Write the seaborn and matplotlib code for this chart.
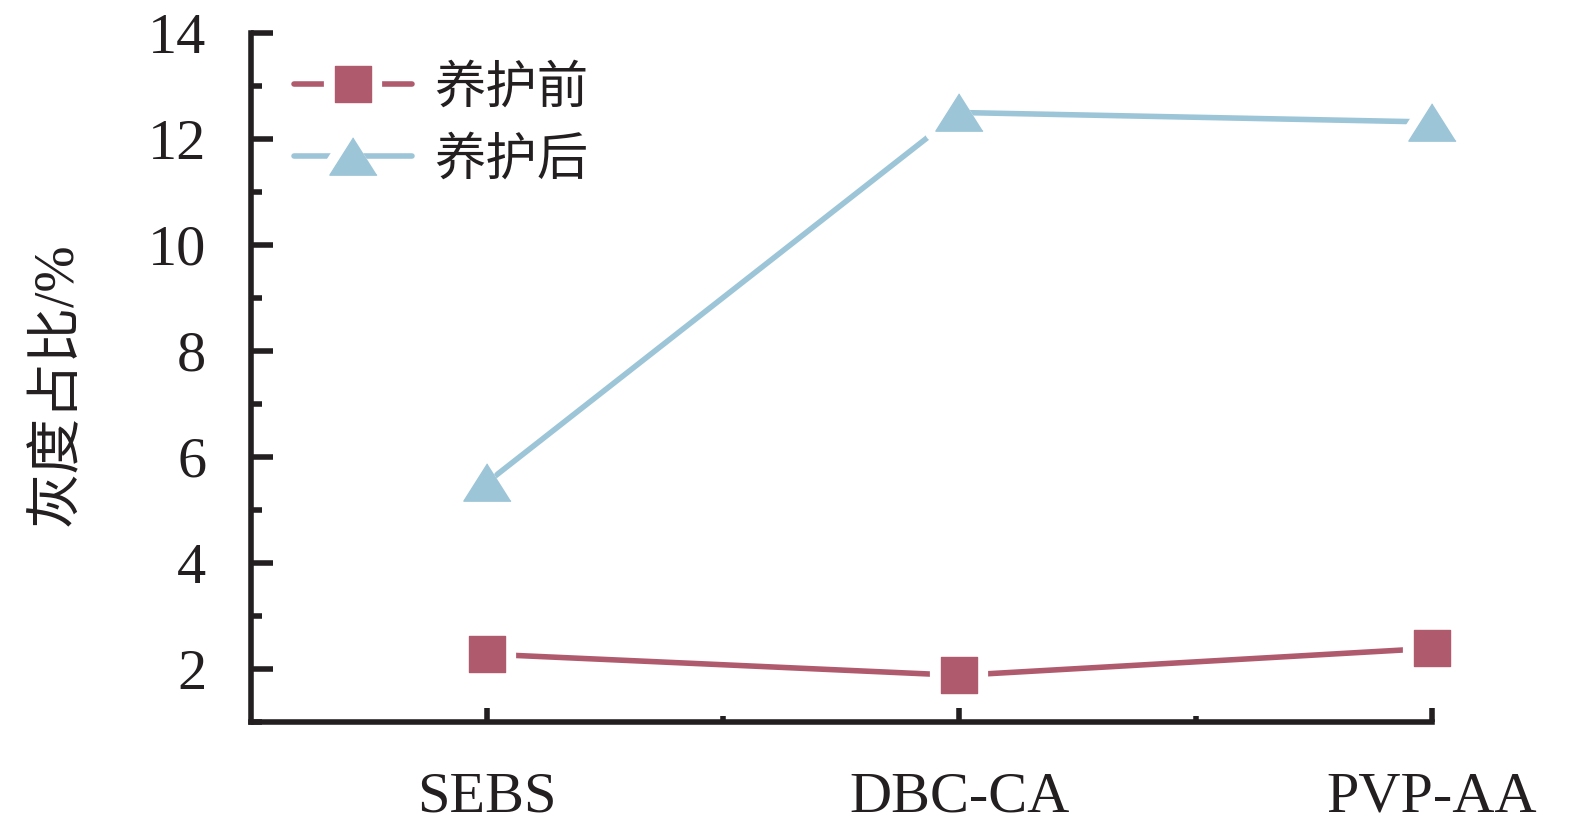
import numpy as np
import pandas as pd
import matplotlib
matplotlib.use('Agg')
import matplotlib.pyplot as plt
import seaborn as sns
from matplotlib.lines import Line2D
from matplotlib.markers import MarkerStyle
from matplotlib.legend_handler import HandlerTuple
from matplotlib.ticker import MultipleLocator, FixedLocator

materials = ['SEBS', 'DBC-CA', 'PVP-AA']
before = [2.28, 1.88, 2.39]   # 养护前
after = [5.52, 12.50, 12.32]  # 养护后
series_names = ['养护前', '养护后']
ylabel = '灰度占比/%'

red = '#B05A6E'
blue = '#9DC5D8'

sns.set_style('ticks')
plt.rcParams['font.family'] = ['Liberation Serif', 'Noto Sans CJK SC']

fig = plt.figure(figsize=(15.75, 8.33), dpi=100)
ax = fig.add_axes([250.7 / 1575, 1 - 722 / 833, (1432 - 250.7) / 1575, (722 - 33) / 833])

square = MarkerStyle('s', joinstyle='round')
tri = MarkerStyle([(0, 0.79), (-1, -0.79), (1, -0.79)], joinstyle='round')

styles = [
    (before, red, square, 26),
    (after, blue, tri, 34),
]
gap = 8  # white gap around markers, points

handles = []
for (vals, color, mk, ms) in styles:
    df = pd.DataFrame({'material': materials, 'value': vals})
    sns.lineplot(data=df, x='material', y='value', color=color, lw=4, errorbar=None,
                 ax=ax, zorder=2, sort=False)
    # white halo, then the coloured marker on top
    ax.plot(df['material'], df['value'], linestyle='none', marker=mk, markersize=ms,
            mfc='white', mec='white', mew=2 * gap, zorder=3, clip_on=False)
    ax.plot(df['material'], df['value'], linestyle='none', marker=mk, markersize=ms,
            mfc=color, mec=color, mew=1, zorder=4, clip_on=False)
    h_line = Line2D([], [], color=color, lw=4)
    h_halo = Line2D([], [], linestyle='none', marker=mk, markersize=ms,
                    mfc='white', mec='white', mew=2 * gap)
    h_mark = Line2D([], [], linestyle='none', marker=mk, markersize=ms,
                    mfc=color, mec=color, mew=1)
    handles.append((h_line, h_halo, h_mark))

ax.set_xlim(-0.5, 2)
ax.set_ylim(1, 14)
ax.yaxis.set_major_locator(MultipleLocator(2))
ax.yaxis.set_minor_locator(MultipleLocator(1))
ax.xaxis.set_minor_locator(FixedLocator([0.5, 1.5]))

for side in ['top', 'right']:
    ax.spines[side].set_visible(False)
for side in ['left', 'bottom']:
    ax.spines[side].set_linewidth(4)
    ax.spines[side].set_color('#231F20')
    ax.spines[side].set_capstyle('projecting')

ax.tick_params(axis='y', which='major', direction='in', length=16, width=4,
               colors='#231F20', labelsize=42, pad=32)
ax.tick_params(axis='y', which='minor', direction='in', length=8, width=4, colors='#231F20')
ax.tick_params(axis='x', which='major', direction='in', length=10, width=4,
               colors='#231F20', labelsize=42, pad=36)
ax.tick_params(axis='x', which='minor', direction='in', length=4, width=4, colors='#231F20')

ax.set_xlabel('')
ax.set_ylabel(ylabel, fontsize=40, color='#231F20')
ax.yaxis.label.set_verticalalignment('center')
ax.yaxis.set_label_coords(-0.164, 0.49)

leg = ax.legend(handles, series_names, handler_map={tuple: HandlerTuple(ndivide=1, pad=0)},
                loc='upper left', bbox_to_anchor=(268 / 1575, 1 - 35 / 833),
                bbox_transform=fig.transFigure, frameon=False,
                prop={'family': 'Noto Sans CJK SC', 'size': 37},
                handlelength=2.3, handletextpad=0.43, labelspacing=0.36, borderpad=0)
for t in leg.get_texts():
    t.set_color('#231F20')

fig.savefig('out.png', dpi=100)
